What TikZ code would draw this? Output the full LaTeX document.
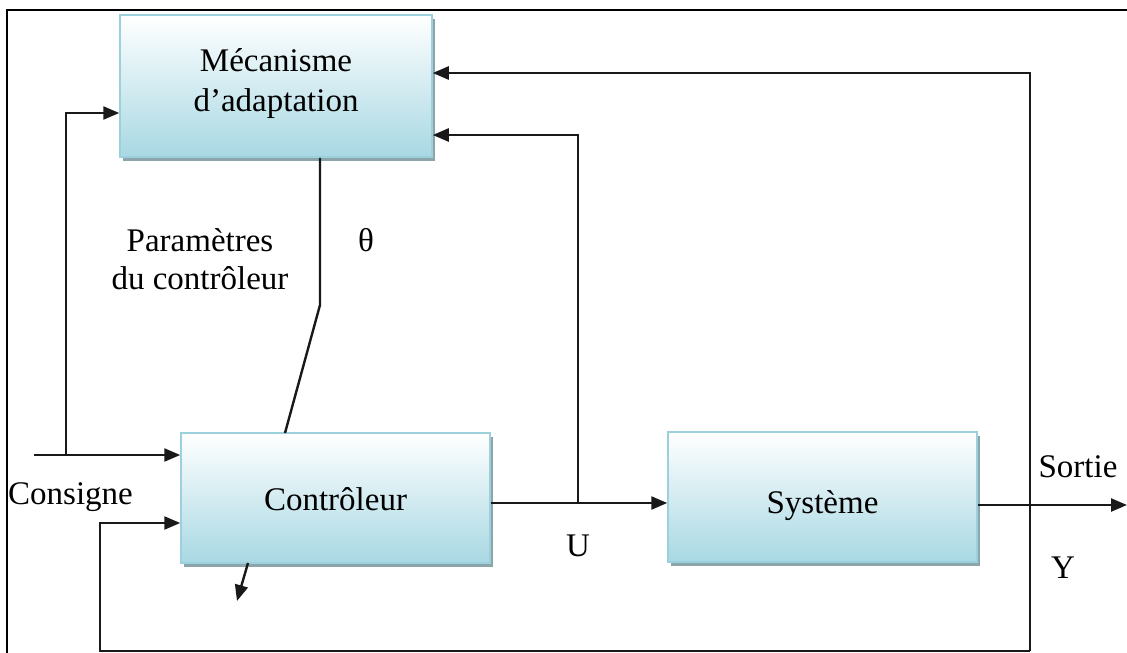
\documentclass[tikz,border=0pt]{standalone}
\usepackage{fontspec}
\setmainfont{Liberation Serif}
\usetikzlibrary{arrows.meta,shadows}
\definecolor{boxedge}{HTML}{9CD0DC}
\definecolor{boxfoot}{HTML}{A8D8E3}
\definecolor{boxshade}{HTML}{6F8E96}
\begin{document}
\begin{tikzpicture}[x=1pt,y=-1pt,
  blockbox/.style={rectangle, draw=boxedge, line width=1.5pt,
    top color=white, bottom color=boxfoot,
    drop shadow={shadow xshift=3pt, shadow yshift=-4pt, fill=boxshade, opacity=0.8},
    font=\fontsize{33}{40}\selectfont, align=center, inner sep=0pt},
  wire/.style={line width=2.4pt, draw=black!90},
  arr/.style={wire, -{Triangle[length=16pt,width=13pt]}},
  lbl/.style={font=\fontsize{33}{38}\selectfont, inner sep=0pt, align=center}]
\useasboundingbox (0,0) rectangle (1127,653);
% outer frame (top and left edges)
\draw[line width=2.4pt] (7,653) -- (7,10) -- (1127,10);

% blocks (text baselines placed relative to the block centres)
\node[blockbox, minimum width=312pt, minimum height=142pt] (mec) at (276,86)
  {\raisebox{15pt}[0pt][0pt]{\parbox[t]{300pt}{\centering Mécanisme\\d’adaptation}}};
\node[blockbox, minimum width=309pt, minimum height=130pt] (ctrl) at (335.5,498)
  {\raisebox{-12pt}[0pt][0pt]{Contrôleur}};
\node[blockbox, minimum width=309pt, minimum height=130pt] (sys) at (822.5,497)
  {\raisebox{-16pt}[0pt][0pt]{Système}};

% junction points and free ends
\coordinate (cin) at (34,455);
\coordinate (cj) at (66,455);
\coordinate (uj) at (578,503);
\coordinate (yj) at (1030,505);
\coordinate (yout) at (1127,505);
\coordinate (fbl) at (100,651);
\coordinate (fbr) at (1030,651);
\coordinate (kink) at (320,305);
\coordinate (ctop) at (285,433);
\coordinate (ctip) at (237,601);
\coordinate (cbot) at (248,563);

% reference input
\draw[arr] (cin) -- (cin -| ctrl.west);
\draw[arr] (cj) |- (mec.west |- 0,113);
% control signal U
\draw[arr] (ctrl.east |- uj) -- (sys.west |- uj);
\draw[arr] (uj) |- (mec.east |- 0,135);
% output Y
\draw[arr] (sys.east |- yj) -- (yout);
\draw[arr] (fbr) -- (yj) |- (mec.east |- 0,73);
\draw[arr] (fbr) -- (fbl) |- (ctrl.west |- 0,523);
% controller parameters
\draw[wire] (ctop) -- (kink) -- (kink |- mec.south);
\draw[arr] (cbot) -- (ctip);

% labels
\node[lbl] (par) at (200,259) {Paramètres\\du contrôleur};
\node[lbl] (theta) at (366,240) {θ};
\node[lbl, anchor=west] (cons) at (8,497) {Consigne};
\node[lbl] (u) at (578,546) {U};
\node[lbl] (sortie) at (1078,467) {Sortie};
\node[lbl] (y) at (1063,568) {Y};
\end{tikzpicture}
\end{document}
